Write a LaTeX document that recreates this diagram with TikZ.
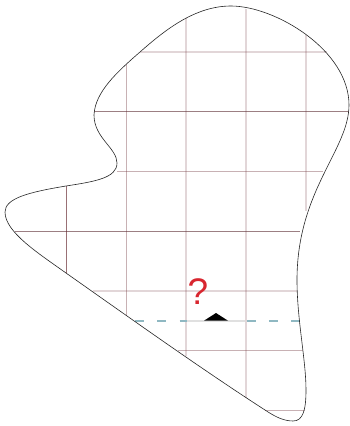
\documentclass[tikz,border=0pt]{standalone}
\usepackage{fontspec}
\setmainfont{Liberation Sans}
\definecolor{gridred}{HTML}{6E333A}
\definecolor{griddark}{HTML}{5A2A30}
\definecolor{dashteal}{HTML}{8FB8C2}
\definecolor{markred}{HTML}{D8262F}
\tikzset{
  gridstrong/.style={draw=griddark, line width=0.8pt, opacity=0.6},
  gridpost/.style={draw=gridred, line width=1pt, opacity=0.7},
  gridmid/.style={draw=gridred, line width=0.8pt, opacity=0.38},
  gridfaint/.style={draw=gridred, line width=1.1pt, opacity=0.2},
}
\begin{document}
\begin{tikzpicture}[x=1pt, y=-1pt]
  \useasboundingbox (0,0) rectangle (350,426);
  % grid inside the outline
  \foreach \x/\ya/\yb/\kind in {66/186/273/gridpost, 126.5/64/315/gridmid, 186/18/356/gridfaint, 246/9/398/gridfaint, 306/35/211/gridfaint}
    \draw[\kind] (\x,\ya) -- (\x,\yb);
  \foreach \y/\xa/\xb/\kind in {52/140/327/gridfaint, 111.5/94/349/gridstrong, 171.5/117/323/gridmid, 231/15/300/gridstrong, 291/93/297/gridfaint, 350/178/303/gridmid, 410/265/305/gridmid}
    \draw[\kind] (\xa,\y) -- (\xb,\y);
  % level line
  \draw[dashteal, line width=1.4pt, dash pattern=on 9pt off 13.3pt] (135,321) -- (300,321);
  \draw[black!12, line width=1.4pt] (187,321) -- (245,321);
  \fill (204,320.7) -- (216,313) -- (228,320.7) -- cycle;
  \node[markred, font=\fontsize{37}{37}\selectfont, inner sep=0pt] (mark) at (198,292) {?};
  % outline
  \draw[black!85, line width=0.6pt] (231,6)
    .. controls (275,6) and (349,50) .. (349,105)
    .. controls (349,150) and (297,190) .. (297,280)
    .. controls (297,320) and (306,360) .. (306,390)
    .. controls (306,410) and (303,421) .. (293,421)
    .. controls (283,421) and (274,416) .. (265,410)
    .. controls (200,368) and (130,318) .. (66,273)
    .. controls (38,253) and (5,232) .. (5,212)
    .. controls (5,198) and (30,192) .. (66,186)
    .. controls (95,181.5) and (117,178) .. (117,163)
    .. controls (117,148) and (94,138) .. (94,115)
    .. controls (95,92) and (117,72) .. (140,52)
    .. controls (165,30) and (195,6) .. (231,6) -- cycle;
\end{tikzpicture}
\end{document}
